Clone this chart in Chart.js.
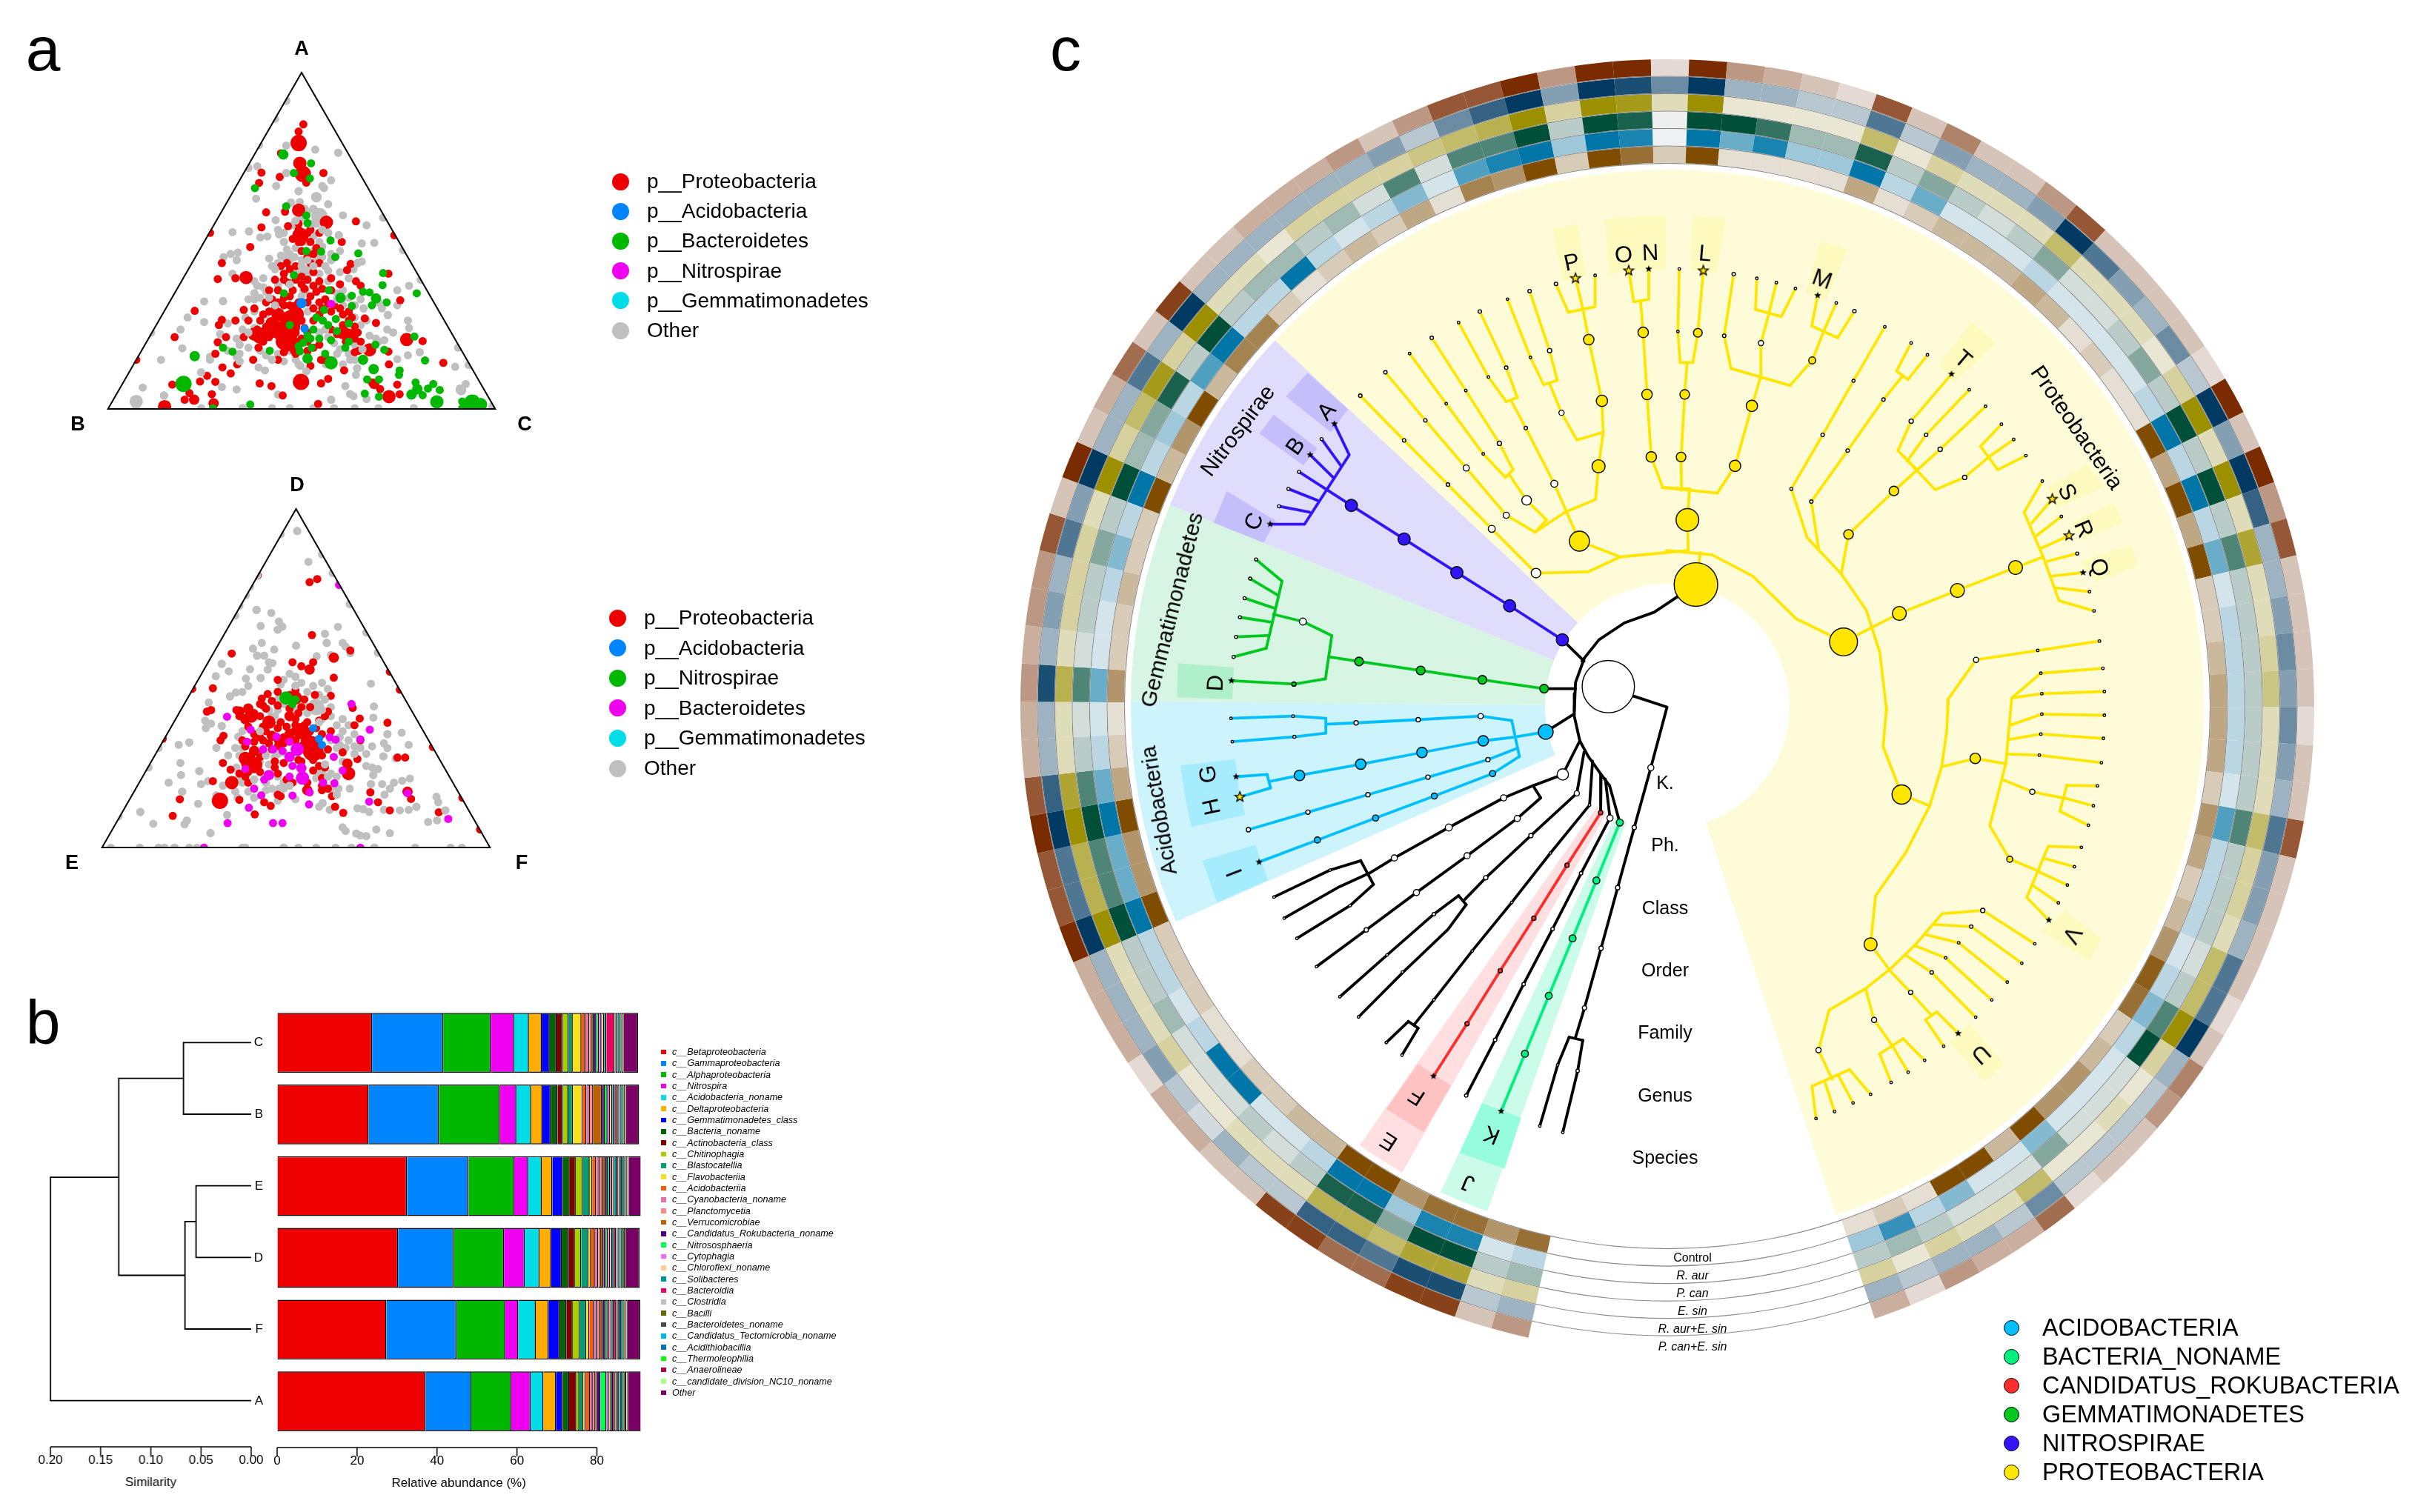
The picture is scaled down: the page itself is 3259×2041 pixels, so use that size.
<!DOCTYPE html>
<html>
<head>
<meta charset="utf-8">
<title>Community composition</title>
<script src="https://cdn.jsdelivr.net/npm/chart.js"></script>
<style>
  html, body { margin: 0; background: #fff; }
  #page { position: relative; width: 3259px; height: 2041px; overflow: hidden; font-family: "Liberation Sans", Arial, sans-serif; color: #000; }
  #page canvas { position: absolute; }
  .txt { position: absolute; white-space: nowrap; z-index: 5; transform-origin: center; }
  .mark { position: absolute; z-index: 5; }
</style>
</head>
<body>
<div id="page"></div>
<script>
// ============================= panel a data

const triangleABC = [[180, 1355], [840, 1355], [510, 235], [180, 1355]];

const abcProteo = [[513,411],[505,435],[475,507],[442,571],[473,585],[547,572],[518,604],[438,605],[450,702],[482,700],[602,732],[442,752],[487,748],[578,800],[423,817],[375,870],[593,873],[587,893],[602,930],[610,945],[657,905],[677,993],[329,1028],[295,1115],[230,1190],[412,1025],[368,923],[398,920],[636,1068],[617,1053],[715,1128],[750,1200],[657,1163],[658,1205],[629,1265],[643,1287],[672,1272],[676,1304],[538,1336],[478,1308],[459,1277],[439,1268],[555,1253],[543,1268],[291,1272],[338,1262],[350,1243],[364,1263],[358,1304],[312,1322],[320,1300],[390,1235],[428,1190],[437,1150],[401,1205],[376,1215],[364,1170],[368,1132],[382,1115],[398,1060],[375,1058],[370,1075],[412,1115],[355,770],[470,1190],[555,1190],[543,1190],[582,1225],[600,1165],[607,1160],[667,778],
  [505,473,4],[507,540,3],[512,575,4],[505,695,3],[552,735,3],[508,780,4],[416,918,3],[688,1123,3],[658,1312,3],[278,1345,3],[328,1322,2],[361,1334,2],[509,1263,4],[625,1157,3],[633,1270,2],[580,1100,3],[592,1110,3],[440,1110,4],[430,1105,3],[490,1080,5],[485,1110,5],[480,1130,4],[492,1060,5],[470,1040,3],[500,1040,4],[460,1070,3],[462,1095,3],
  [490,890],[480,905],[488,935],[510,940],[530,945],[520,925],[535,965],[550,990],[545,1020],[560,1030],[580,1040],[590,1030],[470,960],[465,1020],[445,1040],[525,870],[520,850],[510,830],[505,800],[525,760],[505,760],[515,780],[560,920],[575,940],[450,1080],[440,1060],[430,1020],[420,1060],[520,1000],[540,1000],[505,1000],[490,980],[490,1010],[590,1100],[600,1120],[560,1090],[530,1060],[510,1120],[497,1160],[480,1165],[485,1150],[520,1130],[530,1150],[547,1190],[525,1210],[600,1080],[580,1075],[595,1050],
  [450,1000],[455,1030],[470,1000],[480,1010],[475,1050],[500,1010],[505,1050],[510,1060],[515,1085],[520,1100],[505,1130],[495,1140],[470,1110],[455,1115],[445,1130],[435,1090],[470,1075],[480,985],[495,960],[510,915],[500,880],[485,870],[475,880],[530,900],[540,930],[545,955],[555,1005],[565,1010],[540,1040],[530,1020],[525,980],[515,955],[500,925],[480,925],[465,925],[460,990],[455,960],[475,1130],[500,1170],[500,1100],[520,1160],[540,1140],[570,1105],[585,1130],[605,1100],[610,1130],[590,1060],[575,1020],[560,960],[540,870],[530,840],[535,820],[525,800],[510,800],[495,790],[505,740],[520,770],[540,770]];

const abcOther = [[484,333],[465,393],[438,480],[533,495],[572,505],[484,481],[435,550],[420,555],[484,572],[560,596],[545,615],[533,650],[505,632],[467,615],[433,657],[555,675],[492,670],[507,668],[548,622],[466,728],[421,765],[393,768],[440,785],[452,782],[472,775],[620,745],[612,805],[633,803],[573,778],[580,712],[648,720],[682,827],[712,925],[692,945],[672,960],[640,1000],[605,870],[612,865],[598,890],[402,835],[400,860],[390,840],[378,850],[393,905],[465,890],[455,855],[475,845],[345,997],[377,996],[317,1050],[345,1065],[305,1090],[255,1100],[308,1152],[272,1190],[241,1282],[277,1308],[355,1180],[372,1105],[385,1070],[405,1140],[405,1170],[410,1090],[355,1190],[340,1232],[400,1288],[375,1280],[400,1180],[405,1195],[448,1225],[437,1215],[470,1305],[560,1322],[592,1303],[620,1320],[602,1240],[604,1218],[580,1205],[592,1190],[600,1190],[613,1155],[636,1120],[655,1090],[690,1060],[656,1042],[672,1010],[646,1020],[692,1085],[710,1165],[690,1175],[770,1213],[775,1150],[793,1207],[788,1270],[778,1285],[672,1188],[700,1300],[584,1277],[598,1310],[551,1205],[518,1228],[508,1210],[430,930],[445,950],[430,970],[430,990],[440,985],[420,990],[460,880],[470,945],[520,910],[540,905],[550,880],[535,860],[520,890],[500,905],[560,860],[575,830],[545,815],[520,800],[500,730],[520,700],[540,710],[535,740],[555,770],[530,780],[540,800],[470,760],[480,800],[498,850],[490,860],[570,970],[570,990],[580,1010],[510,980],[520,1030],[600,1010],[625,1110],[640,1130],[650,1125],[665,1100],[600,1140],[590,1170],[570,1170],[550,1090],[500,1190],[490,1160],[470,1170],[460,1190],[440,1160],[600,1190],[385,1160],[420,1100],[415,1050],[430,1030],[450,1040],[465,1010],[600,1350],[530,1350],[460,1350],[410,1350],[340,1350],[230,1350],[640,1350],[700,1350],[565,1350],[490,1350],
  [230,1328,3],[535,652,2],[540,715,4],[515,960,2],[835,1345,2],[780,1290,2],
  [445,920],[435,945],[450,965],[455,985],[480,850],[490,840],[510,860],[530,880],[545,850],[560,840],[540,840],[520,860],[500,820],[485,825],[530,830],[510,880],[470,870],[555,895],[575,900],[590,920],[580,960],[590,985],[610,990],[615,1020],[600,1050],[620,1060],[610,1075],[545,1060],[555,1115],[565,1135],[575,1155],[540,1100],[520,1170],[505,1205],[480,1195],[450,1175],[420,1150],[400,1120],[430,1085],[490,940],[510,895],[540,950],[555,930],[525,740],[510,720],[495,745],[480,770],[545,760],[555,740],[530,690],[515,690]];

const abcBacteroidetes = [[479,511,2],[526,540],[497,572],[524,590],[431,622],[484,682],[518,713],[520,738],[559,795],[567,850],[606,838],[518,830],[543,832],[648,903],[647,943],[705,970],[614,965],[625,967],[636,987,2],[654,1000],[629,1010],[576,985,2],[595,978],[701,1113],[650,1157],[377,1150],[393,1163],[329,1178,2],[310,1270,4],[423,1338],[456,1160],[520,1186,2],[507,1162],[513,1133],[527,1150],[550,1170],[560,1200,3],[584,1150],[614,1190,2],[719,1192],[632,1221,2],[676,1225],[621,1255],[641,1255],[617,1302],[641,1312],[675,1240],[703,1265],[706,1287,2],[696,1305,2],[724,1285],[744,1290],[715,1307],[733,1270],[739,1329,3],[782,1328],[799,1332,4],[813,1338,3],[782,1350],[548,1025],[546,1060],[568,1055],[590,1070],[570,1095],[590,1130],[635,1140],[595,1012],[556,960],[497,910],[480,970],[490,1075],[540,1120],[530,1090],[360,1350],[535,1050],[555,1075],[520,1110],[525,1120],[505,1145],[560,1125]];

const abcAcido = [[510,1003,2],[515,1087]];
const abcNitro = [[560,1005]];

// ============================= panel a lower ternary data

const triangleDEF = [[170, 1237], [832, 1237], [501, 110], [170, 1237]];

const defOther = [[503,188],[475,198],[522,290],[545,265],[563,327],[435,335],[423,372],[416,400],[405,435],[398,468],[434,449],[459,459],[472,487],[478,504],[441,502],[470,514],[572,505],[592,430],[620,524],[550,528],[553,558],[443,558],[501,567],[428,577],[464,580],[435,600],[447,600],[580,558],[585,570],[593,592],[640,590],[560,598],[536,602],[455,622],[461,625],[375,627],[387,652],[365,668],[423,645],[453,646],[441,674],[416,676],[420,700],[410,720],[399,722],[389,735],[353,755],[347,815],[357,825],[348,840],[375,833],[366,905],[386,930],[403,868],[398,905],[320,887],[302,895],[268,905],[305,955],[251,970],[337,982],[306,995],[285,1020],[340,1025],[352,1015],[308,1050],[335,1090],[366,1062],[377,1030],[398,1050],[237,1117],[200,1132],[259,1156],[312,1158],[316,1145],[356,1187],[384,1127],[402,1070],[450,1045],[472,1040],[490,1030],[660,1040],[628,693],[633,768],[632,805],[656,860],[680,855],[692,895],[650,890],[656,906],[649,933],[670,940],[640,975],[620,965],[630,970],[632,995],[694,1007],[681,1014],[667,1020],[647,1025],[628,1025],[592,1040],[573,1040],[651,1060],[605,1105],[615,1108],[625,1117],[650,1110],[677,1112],[692,1110],[705,1100],[725,1150],[740,1145],[739,1067],[742,1085],[754,1112],[580,1168],[585,1180],[603,1188],[610,1195],[620,1197],[637,1175],[660,1187],[568,1100],[558,1110],[546,1088],
  [187,1235],[236,1235],[268,1235],[278,1235],[295,1235],[320,1235],[333,1235],[410,1235],[415,1235],[480,1235],[505,1235],[535,1235],[568,1235],[595,1235],[634,1235],[703,1235],[763,1235],[782,1235],
  [430,860],[440,850],[470,830],[500,780],[520,790],[535,770,4],[545,780],[530,700],[545,690],[555,710],[490,660],[500,670],[475,695],[560,800],[570,830],[580,850],[590,880],[575,870],[560,880],[600,900],[630,900],[540,820],[460,800],[470,780],[480,760],[410,850],[450,930],[465,935],[480,920],[540,990],[560,990],[550,960],[590,960],[580,950],[470,1000],[480,1040],[450,1020],[410,1000],[415,960],[400,970],[560,1040],[570,1060],
  [480,680],[510,690],[520,720],[540,730],[550,745],[560,770],[530,760],[545,810],[520,770],[500,700],[490,745],[470,745],[455,780],[465,800],[580,810],[590,830],[600,860],[610,905],[620,925],[600,925],[585,905],[575,895],[570,905],[545,985],[555,1000],[570,1000],[535,1005],[480,1020],[460,1040],[430,1010],[410,1020],[400,1010],[440,950],[455,960],[470,925],[450,890],[410,905],[405,930],[420,1050],[430,1070],[470,1080],[500,1075],[540,1100]];

const defProteo = [[436,335],[537,347],[524,357],[528,532],[392,593],[593,583],[565,607,2],[495,622],[530,622],[510,635],[524,646,2],[660,653],[565,673],[470,680],[360,708],[325,710],[677,713],[453,727],[533,730],[560,733],[443,742],[350,785],[357,780],[597,773],[609,808],[656,822],[600,830],[275,875],[378,865],[373,880],[733,902],[673,937],[686,937],[377,955],[605,942],[588,957,2],[304,1075],[292,1130],[405,1077],[431,1125],[458,1097],[447,1085],[475,1065],[562,1065],[581,1120],[567,1100],[627,1052],[640,1085],[660,1112],[696,1074],[690,1050,2],[743,1118],[813,1175],[783,1070],[545,1030],[555,1040],[545,1045],[390,977],[405,990],[415,1000],[420,1020],[360,1015],[392,1020,3],[372,1080,4],[430,962,4],[415,940,3],[425,800,3],[405,785,2],[415,810,2],[420,775,2],[440,800],[450,775],[460,750],[470,720],[500,740,3],[510,770],[490,800,2],[455,820,3],[470,840],[430,860],[460,865,2],[490,860,2],[510,850,4],[520,880,3],[530,915,5],[520,900,4],[545,860],[550,800],[555,785],[430,915,2],[415,900],[410,880],[460,910],[445,915],[465,970],[470,990],[510,1010],[520,1020],[520,1045,2],[590,990,3],[550,970],[540,965],[580,920],[610,880],[480,870],[498,850],[515,830],[535,840],[500,810],[470,1060],
  [405,800],[400,780],[430,790],[445,835],[450,850],[440,870],[430,885],[445,880],[475,820],[485,835],[500,830],[520,820],[525,850],[500,880],[480,890],[470,880],[505,900],[530,880],[540,900],[545,930],[530,945],[505,945],[440,935],[425,930],[435,950],[415,960],[420,985],[440,985],[465,950],[480,955],[530,980],[510,950],[555,910],[490,775],[505,790],[525,770],[470,765],[445,765],[500,715],[490,730],[515,745],[540,815],[560,850],[455,890],[470,900],[420,835],[440,760],[485,1010],[495,1020],[545,1005]];

const defBacteroidetes = [[574,366],[384,802],[595,760],[626,845],[424,845],[610,877],[568,878],[558,870],[418,885],[468,868],[490,885],[503,910,3],[478,915],[462,910],[445,910],[490,935,2],[565,935],[580,980],[495,965],[510,972,2],[512,1005,3],[455,995,2],[447,1010],[430,1040],[442,1062],[495,1063],[524,1052],[523,1092],[421,1103],[566,1022],[547,1020],[625,1083],[690,1055],[759,1140],[385,1154],[462,1154],[478,1154],[345,1235],[610,1235],[415,975],[490,1000]];

const defNitro = [[484,740,3],[495,760],[500,745]];
const defAcido = [[530,840],[540,875],[545,895]];

const legendABC = ['p__Proteobacteria', 'p__Acidobacteria', 'p__Bacteroidetes', 'p__Nitrospirae', 'p__Gemmatimonadetes', 'Other'];
const legendDEF = ['p__Proteobacteria', 'p__Acidobacteria', 'p__Nitrospirae', 'p__Bacteroidetes', 'p__Gemmatimonadetes', 'Other'];

// ============================= panel b data

const samples = ['C', 'B', 'E', 'D', 'F', 'A'];

const classNames = ['c__Betaproteobacteria','c__Gammaproteobacteria','c__Alphaproteobacteria','c__Nitrospira','c__Acidobacteria_noname','c__Deltaproteobacteria','c__Gemmatimonadetes_class','c__Bacteria_noname','c__Actinobacteria_class','c__Chitinophagia','c__Blastocatellia','c__Flavobacteriia','c__Acidobacteriia','c__Cyanobacteria_noname','c__Planctomycetia','c__Verrucomicrobiae','c__Candidatus_Rokubacteria_noname','c__Nitrososphaeria','c__Cytophagia','c__Chloroflexi_noname','c__Solibacteres','c__Bacteroidia','c__Clostridia','c__Bacilli','c__Bacteroidetes_noname','c__Candidatus_Tectomicrobia_noname','c__Acidithiobacillia','c__Thermoleophilia','c__Anaerolineae','c__candidate_division_NC10_noname','Other'];

const abundanceC = [23.75,17.8,11.9,5.85,3.7,3.2,2.0,1.7,1.5,1.5,1.05,2.2,0.95,1.0,0.65,0.45,0.65,0.65,0.65,0.65,0.6,2.0,0.25,0.25,0.3,0.3,0.3,0.3,0.3,0.3,3.6];
const abundanceB = [22.9,17.6,15.2,4.15,3.7,2.8,2.1,1.7,1.3,1.4,1.15,2.45,0.95,0.85,0.85,2.15,0.7,0.7,0.6,0.6,0.6,0.5,0.3,0.3,0.2,0.3,0.3,0.3,0.3,0.3,3.3];
const abundanceE = [32.5,15.4,11.4,3.5,3.4,2.65,2.65,1.7,1.5,1.8,1.7,0.7,0.9,0.85,0.75,0.75,0.55,0.55,0.55,0.45,0.85,0.2,0.25,0.3,0.35,0.35,0.35,0.35,0.35,0.35,3.2];
const abundanceD = [30.25,13.95,12.55,5.2,3.7,2.9,2.65,1.7,1.6,1.6,1.8,0.65,0.95,0.85,0.65,0.65,0.55,0.55,0.55,0.5,0.5,0.5,0.2,0.2,0.35,0.35,0.35,0.35,0.35,0.35,3.4];
const abundanceF = [27.35,17.55,12.15,3.3,4.35,3.2,2.75,1.7,1.6,1.8,1.6,0.75,1.15,0.85,0.75,0.65,0.65,0.5,0.5,0.55,0.5,0.65,0.2,0.2,0.4,0.4,0.4,0.4,0.4,0.4,3.2];
const abundanceA = [37.15,11.4,10,4.9,3.2,3.1,1.7,1.6,1.8,0.75,0.95,0.65,1.05,0.7,0.7,0.4,0.85,1.5,0.6,0.6,0.4,0.5,0.3,0.3,0.45,0.45,0.45,0.45,0.45,0.45,3.6];

const classColors = ['#ee0000','#0085ff','#00b800','#f000f0','#00dde6','#ffae00','#0000ff','#006400','#800000','#aacd00','#009e73','#f8e020','#ff5a00','#e672a8','#ff8888','#c06000','#4b0090','#00ff50','#ff66ff','#ffcc99','#009999','#f00060','#bfbfbf','#666600','#4d4d4d','#00b8e6','#0070b8','#00ff00','#b00040','#aaff88','#7a0066'];

// dendrogram: sample row (0 = top) and similarity of each merge
const dendroMerges = [
  [[0, 0], [1, 0], 0.0675],
  [[2, 0], [3, 0], 0.055],
  [[2.5, 0.055], [4, 0], 0.066],
  [[0.5, 0.0675], [3.25, 0.066], 0.132],
  [[1.88, 0.132], [5, 0], 0.2]
];

// ============================= panel c heat rings, one value per tree leaf

const ringPcanEsin = [4,2,8,8,6,6,8,8,2,2, 3,3,1,3,3,3,9,7,7,9, 7,3,3,4,3,4,4,7,2,9, 2,3,6,2,8,2,2,3,3,3, 4,2,4,7,7,9,4,9,9,1, 9,4,3,2,1,7,2,5,2,2, 4,7,2,2,2,2,1,9,2,9, 4,7,2,2,2,2,1,2,2,7, 2,2,2,2,1,2,5,4,2,2, 1,6,3,3,4,1,3];
const ringRaurEsin = [3,2,8,8,6,7,7,2,2,3, 1,2,4,3,3,3,9,6,6,9, 7,3,3,8,3,4,3,6,4,9, 3,3,6,3,9,3,3,3,3,3, 3,4,2,5,7,9,4,9,8,5, 9,3,3,2,2,6,2,4,3,3, 4,9,6,4,3,5,2,9,4,9, 7,3,3,4,5,4,5,4,3,6, 4,4,3,6,6,9,3,2,2,2, 2,5,2,3,3,2,3];
const ringEsin = [3,2,7,7,5,6,6,2,2,2, 1,1,3,2,2,2,9,6,6,9, 7,2,2,6,2,3,3,3,2,9, 3,5,8,3,9,2,2,1,3,3, 3,3,4,5,6,9,3,9,8,2, 9,1,1,1,1,5,1,3,2,2, 2,5,2,2,2,1,3,9,2,9, 2,7,2,2,3,4,2,2,2,5, 3,3,2,5,5,9,3,1,2,1, 1,5,2,2,3,1,3];
const ringPcan = [3,2,9,9,4,8,8,2,1,2, 1,1,1,3,2,2,9,6,6,9, 6,2,1,6,1,2,2,4,2,9, 3,4,8,2,9,2,3,3,2,3, 1,6,1,6,6,9,2,9,8,0, 9,9,7,3,3,8,2,4,2,1, 2,4,1,1,2,4,2,9,2,9, 2,6,2,2,2,2,2,2,2,6, 2,2,2,1,2,6,9,1,1,1, 4,1,1,1,2,3,2];
const ringRaur = [2,1,8,8,3,9,9,2,1,1, 9,9,2,1,2,2,9,5,5,9, 5,2,1,5,1,1,2,4,2,9, 2,3,2,6,9,2,2,9,2,1, 2,4,1,6,8,9,3,9,8,0, 9,5,8,3,3,9,2,5,1,1, 1,2,1,1,1,1,2,9,2,9, 2,5,1,2,2,2,2,2,1,6, 2,2,2,1,2,4,2,1,1,1, 4,1,1,4,2,7,3];
const ringControl = [7,5,7,7,5,9,9,3,3,2, 2,1,1,2,2,2,9,5,5,9, 4,2,1,5,2,2,3,2,2,9, 3,5,9,3,6,6,2,1,2,3, 2,4,1,6,5,9,2,9,7,2, 9,1,1,1,1,4,1,2,3,3, 3,4,3,1,2,1,1,9,4,9, 4,9,2,2,3,4,4,4,2,5, 4,2,3,5,8,7,2,3,5,5, 9,3,9,9,1,2,1];

// clade shading spans in degrees, clockwise from the lower edge of the yellow wedge
const cladeSpans = [37.9, 5.4, 4.6, 5.4, 31.3, 24.2, 21.5, 21, 208.7];

const ringLabels = ['Control', 'R. aur', 'P. can', 'E. sin', 'R. aur+E. sin', 'P. can+E. sin'];
const levelLabels = ['K.', 'Ph.', 'Class', 'Order', 'Family', 'Genus', 'Species'];
const phylumLegend = ['ACIDOBACTERIA', 'BACTERIA_NONAME', 'CANDIDATUS_ROKUBACTERIA', 'GEMMATIMONADETES', 'NITROSPIRAE', 'PROTEOBACTERIA'];

// ============================= tree, each list in its own quadrant units

const quadrants = { nw: [1400, 60, 1.742, 1.742], ne: [2200, 60, 1.633, 1.742], sw: [1400, 900, 1.742, 1.65], se: [2200, 900, 1.48, 1.374] };

const blackLinesNw = [[1280,1450,1320,1400,1380,1360,1450,1335,1510,1295],[1285,1445,1265,1500,1262,1568],[1234,1400,1285,1450],[1191,1515,1265,1515]];
const blackLinesSw = [
  [1262,60,1262,110,1275,165,1295,200,1325,240,1345,265],[1195,145,1262,105],
  [1400,65,1480,90,1442,225,1403,358,1364,492,1325,627,1286,760,1265,825],[1250,825,1282,832],[1250,825,1223,887,1181,1023],[1282,832,1270,900,1235,1037],
  [1275,165,1235,240,1165,265,1183,292],[1165,265,1096,292,967,358,839,426,780,460],[760,432,790,485],[760,432,688,453,556,513],[775,462,710,490,580,560],[790,485,735,532,610,605],[1183,292,1128,338,1010,421,891,503,773,586,656,668],
  [1285,190,1268,282,1160,376,1054,470,1005,518],[990,510,1008,530],[990,510,932,551,822,642,711,735],[1008,530,965,585,860,680,755,780],
  [1305,210,1298,308,1206,415,1115,525,1022,633,932,742,885,798],[872,790,895,805],[872,790,820,837],[895,805,857,865],
  [1325,240,1324,325],[1335,250,1346,337,1278,460,1211,584,1143,707,1076,831,1008,955],[1345,265,1369,347]];
const purpleLinesNw = [[1234,1400,1110,1320,986,1242,862,1163,738,1084,615,1005],[547,1128,628,1128,733,965,698,892],[568,1086,640,1100],[590,1045,658,1072],[641,965,695,1018],[668,928,713,990]];
const greenLinesNw = [[1191,1515,1046,1494,901,1472,756,1451,685,1440],[692,1390,677,1492],[692,1390,624,1357,555,1340],[575,1262,538,1420],[514,1211,575,1262],[500,1256,565,1295],[487,1302,555,1325],[476,1347,548,1358],[467,1393,542,1390],[461,1440,538,1420],[677,1492,610,1503,603,1504,456,1496]];
const blueLinesSw = [[1195,145,1120,157],[1115,120,1133,200],[1115,120,1042,110,895,118,749,125,678,128],[678,115,678,148],[678,115,601,110,455,115],[678,148,604,156,458,167],[1120,157,1048,165,904,191,760,217,616,242,548,255],[540,240,548,270],[540,240,467,245],[548,270,476,290],[1127,182,1059,207,918,246,777,285,636,324,496,363],[1133,200,1070,238,933,288,795,337,658,386,521,435]];
const redLinesSw = [[1324,325,1245,442,1167,560,1088,677,1010,795,931,912]];
const mintLinesSw = [[1369,347,1314,476,1258,605,1202,733,1146,862,1090,990]];
const yellowLinesNw = [
  [1172,1243,1295,1240,1370,1205,1530,1190],[1274,1168,1370,1205],[1530,1190,1528,1118,1533,1045],
  [1170,1147,1240,1100,1312,1070,1319,992,1330,912,1268,930,1232,866,1205,800],[1190,800,1222,790],[1190,800,1159,736,1105,599],[1222,790,1204,720,1157,580],
  [1330,912,1327,838,1296,694,1283,625],[1248,630,1310,617],[1248,630,1219,563],[1310,617,1311,543],[1283,625,1265,550],
  [1274,1168,1215,1033,1148,902,1115,840],[1102,840,1128,830],[1102,840,1060,782,990,654],[1128,830,1102,760,1040,628],
  [1170,1147,1102,1107,1008,996,912,884,818,771],[1170,1147,1197,1118,1150,1072,1108,1010],[1100,1018,1118,1000],[1100,1018,1048,963,961,845,875,727],[1118,1000,1086,938,1007,814,927,690],
  [1172,1243,1068,1139,965,1035,862,931,759,826],
  [1470,1042,1533,1045],[1470,1042,1443,970,1433,823,1424,677,1418,605],[1402,605,1436,600],[1402,605,1390,532],[1436,600,1437,528]];
const yellowLinesNe = [
  [70,1042,130,1048,192,1055],[113,1048,112,970,120,823,125,750],[110,748,138,748],[110,748,105,675,108,528],[138,748,149,678,161,532],
  [192,1055,231,991,268,850,288,780],[222,762,352,802],[222,762,207,685,228,540],[288,780,288,702,305,635],[276,623,333,640],[276,623,279,550],[305,635,322,560],[333,640,364,574],
  [352,802,401,743,428,670],[400,662,457,690],[400,662,413,590],[428,670,454,608],[457,690,494,627],
  [142,1270,155,1195],[80,1190,180,1200,270,1250,365,1350,470,1405],
  [470,1405,593,1338,721,1284,849,1230,910,1205],[868,1100,910,1205,945,1308],[868,1100,908,1027],[885,1125,930,1069],[893,1157,950,1110],[905,1185,967,1155],[920,1215,985,1197],[930,1250,998,1242],[940,1278,1012,1287],[945,1308,1022,1332],
  [355,1045,390,1160,465,1245,520,1330,550,1430,565,1568],[399,1075,415,1185],[355,1045,424,918,492,791,561,664],[399,1075,479,955,558,835,600,780],[587,768,612,788],[587,768,619,702],[612,788,655,730],
  [465,1245,481,1152,581,1050,683,952,783,851],[632,1000,590,955,672,1047,737,1018,790,970],[772,945,810,1000],[772,945,818,893],[790,970,845,929],[810,1000,872,967],
  [590,955,619,886,708,775],[610,980,652,918,747,812],
  [700,1568,700,1540,762,1447,898,1425,1034,1403]];
const yellowLinesSe = [
  [512,75,505,148,542,237],[635,60,632,120,622,185,598,258,550,345,490,425,480,515],[542,237,598,258],[625,185,689,170,750,180],[762,58,750,180,718,295,758,357],
  [762,58,820,12,944,3],[762,58,822,50,947,46],[760,108,822,88,947,90],[755,135,820,125,945,133],[752,162,817,164,941,178],[745,210,803,232,862,243],[872,220,858,268],[872,220,933,221],[865,243,925,258],[858,268,915,294],
  [758,357,818,380],[835,333,792,428],[835,333,901,335],[825,355,887,371],[815,380,873,405],[803,405,855,438],[792,428,836,470],
  [480,515,520,565,560,604,600,645],[590,655,612,640],[612,640,655,680],[590,655,626,704],
  [397,637,470,597,520,560,570,515,623,458],[623,458,704,452,808,514],[605,478,681,482,782,550],[590,497,656,512,753,585],[570,518,630,540,722,618],[550,535,602,567,690,650],
  [470,597,487,655,525,705],[498,718,545,690],[498,718,521,771],[525,705,555,752],[545,690,588,730],
  [397,637,376,711,403,765],[363,778,438,747],[363,778,371,838],[388,768,408,825],[415,757,445,809],[438,747,480,793]];

const purpleNodesNw = [[1234,1400,14],[1110,1320,14],[986,1242,14],[862,1163,14],[738,1084,14]];
const greenNodesNw = [[1191,1515,10],[1046,1494,10],[901,1472,10],[756,1451,10],[603,1504,5]];
const blueNodesSw = [[1195,145,17],[1048,165,12],[904,191,12],[760,217,12],[616,242,12],[1070,238,7],[933,288,7],[795,337,7],[658,386,7]];
const redNodesSw = [[1324,325,5],[1245,442,5],[1167,560,5],[1088,677,5],[1010,795,5]];
const mintNodesSw = [[1369,347,8],[1314,476,8],[1258,605,8],[1202,733,8],[1146,862,8]];
const yellowNodesNw = [[1274,1168,23],[1319,992,15],[1327,838,13],[1296,694,12],[1528,1118,26],[1424,677,12],[1433,823,12],[1443,970,12],[1548,1270,50]];
const yellowNodesNe = [[112,970,11],[120,823,11],[149,678,10],[231,991,13],[268,850,13],[401,743,8],[470,1405,32],[593,1338,16],[721,1284,16],[849,1230,16],[481,1152,11],[581,1050,11]];
const yellowNodesSe = [[542,237,22],[480,515,15],[689,170,12],[758,357,7]];
const whiteNodesNw = [[1342,1510,60],[615,1005,3.5],[590,1045,3.5],[568,1086,3.5],[668,928,3.5],[514,1211,3.5],[500,1256,3.5],[487,1302,3.5],[476,1347,3.5],[467,1393,3.5],[461,1440,3.5],[624,1357,8],[1172,1243,11],[1150,1072,11],[1215,1033,8],[1102,1107,7],[1008,996,7],[1068,1139,8],[1232,866,6],[1204,720,5],[1148,902,4],[1102,760,4],[1086,938,5],[1219,563,4],[1311,543,3],[1157,580,4],[1105,599,2.5],[1040,628,4],[990,654,3],[1060,782,2],[1159,736,3],[1007,814,3],[1048,963,3],[961,845,3],[912,884,4],[927,690,4],[875,727,3],[818,771,4],[965,1035,4],[862,931,4],[759,826,4]];
const whiteNodesNe = [[105,675,3],[108,528,3],[207,685,4],[228,540,4],[288,702,6],[279,550,3],[322,560,3],[364,574,3],[454,608,3],[494,627,4],[355,1045,3.5],[399,1075,4],[424,918,4],[492,791,3.5],[561,664,3],[479,955,4],[558,835,4],[619,702,3],[655,730,3],[683,952,5],[783,851,3],[619,886,5],[652,918,4],[747,812,3],[737,1018,5],[818,893,3],[845,929,3],[872,967,3],[908,1027,3],[950,1110,3],[985,1197,3.5],[1012,1287,3],[1022,1332,3],[762,1447,6],[898,1425,3],[1034,1403,3]];
const whiteNodesSw = [[1042,110,6],[895,118,5],[749,125,5],[601,110,3],[604,156,3.5],[455,115,2.5],[458,167,2.5],[1059,207,5],[918,246,5],[777,285,5],[636,324,5],[496,363,5],[1442,225,7],[1403,358,5],[1364,492,5],[1325,627,5],[1286,760,5],[1270,900,4],[1235,1037,3],[1223,887,2],[1181,1023,2.5],[1235,240,13],[1096,292,7],[967,358,8],[839,426,7],[556,513,2.5],[580,560,2.5],[610,605,3],[688,453,2],[735,532,3],[1128,338,7],[1010,421,7],[891,503,7],[773,586,5],[656,668,3],[1268,282,6],[1160,376,5],[1054,470,5],[932,551,4],[822,642,3],[711,735,3],[858,680,2],[755,780,2],[1298,308,3],[1206,415,2],[1115,525,2],[1022,633,2],[932,742,3],[820,837,2],[857,865,2],[1346,337,7],[1278,460,4],[1211,584,4],[1143,707,4],[1076,831,4],[1008,955,4]];
const whiteNodesSe = [[820,12,3],[944,3,3],[822,50,3],[947,46,3],[822,88,3],[947,90,3],[820,125,3],[945,133,3],[817,164,3],[941,178,2],[803,232,6],[933,221,3],[925,258,2],[915,294,2],[901,335,2],[887,371,2],[873,405,2],[855,438,3],[704,452,5],[808,514,2],[681,482,4],[782,550,2],[656,512,3],[753,585,2],[630,540,2],[722,618,2],[602,567,4],[690,650,2],[560,604,5],[626,704,2],[487,655,6],[521,771,2],[555,752,2],[588,730,2],[376,711,6],[371,838,2],[408,825,3],[445,809,2],[480,793,2]];

const blackStarsNw = [[547,1128],[641,965],[698,892],[456,1496],[1437,528]];
const openStarsNw = [[1265,550],[1390,532]];
const blackStarsSw = [[467,245],[521,435],[931,912],[1090,990]];
const openStarsSw = [[476,290]];
const blackStarsNe = [[413,590],[708,775],[998,1242]];
const openStarsNe = [[161,532],[930,1069],[967,1155]];
const blackStarsSe = [[655,680],[836,470]];

const purplePatchesNw = [[635,772,730,858,690,912,584,828],[555,870,658,950,625,990,522,915],[445,1050,560,1120,532,1172,414,1125]];
const greenPatchesNw = [[330,1455,462,1465,458,1540,328,1535]];
const bluePatchesSw = [[336,220,465,206,473,270,347,290],[347,290,473,270,488,330,362,357],[388,432,512,397,542,475,422,525]];
const redPatchesSw = [[895,885,972,933,908,1037,820,985]];
const mintPatchesSw = [[1045,972,1137,1005,1098,1118,993,1083]];
const yellowPatchesNw = [[1212,433,1268,423,1290,545,1235,558],[1333,412,1405,405,1408,527,1345,540],[1405,405,1477,402,1477,530,1408,530]];
const yellowPatchesNe = [[137,404,210,410,190,537,132,530],[420,462,478,482,432,602,387,584],[752,653,807,702,715,795,680,752],[1010,990,1045,1040,940,1090,918,1040],[1066,1078,1087,1125,995,1165,972,1125],[1105,1177,1118,1225,1025,1265,990,1215]];
const yellowPatchesSe = [[677,662,747,738,708,768,638,697],[870,453,941,505,917,546,822,490]];

// ============================= helpers

const page = document.getElementById('page');
const ringCentre = [2250, 953];

function addCanvas(left, top, width, height) {
    const c = document.createElement('canvas');
    c.width = width;
    c.height = height;
    c.style.left = left + 'px';
    c.style.top = top + 'px';
    c.style.width = width + 'px';
    c.style.height = height + 'px';
    page.appendChild(c);
    return c;
}

function addText(str, x, y, size, extra) {
    const o = extra || {};
    const d = document.createElement('div');
    d.className = 'txt';
    d.textContent = str;
    d.style.left = x + 'px';
    d.style.top = y + 'px';
    d.style.fontSize = size + 'px';
    if (o.bold) d.style.fontWeight = 'bold';
    if (o.italic) d.style.fontStyle = 'italic';
    const shift = o.left ? 'translate(0,-50%)' : 'translate(-50%,-50%)';
    d.style.transform = shift + ' rotate(' + (o.rot || 0) + 'deg)';
    page.appendChild(d);
}

function addMark(x, y, size, color, round, border) {
    const d = document.createElement('div');
    d.className = 'mark';
    d.style.left = (x - size / 2) + 'px';
    d.style.top = (y - size / 2) + 'px';
    d.style.width = size + 'px';
    d.style.height = size + 'px';
    d.style.background = color;
    d.style.boxSizing = 'border-box';
    if (round) d.style.borderRadius = '50%';
    if (border) d.style.border = border;
    page.appendChild(d);
}

const baseOptions = {
    responsive: false,
    animation: false,
    events: [],
    layout: { autoPadding: false },
    plugins: { legend: { display: false }, tooltip: { enabled: false } }
};

// ============================= ternary plots

const abundanceRadius = [0, 5.5, 7, 9, 11, 14];

function ternaryDataset(points, color) {
    return {
        data: points.map(p => ({ x: p[0], y: p[1], r: abundanceRadius[p[2] || 1] })),
        backgroundColor: color,
        borderWidth: 0,
        pointRadius: ctx => ctx.raw ? ctx.raw.r : 0,
        clip: false
    };
}

// marks on the edge are cut by the triangle, so clip the datasets to it
function triangleClip(triangle) {
    return {
        id: 'triangleClip',
        beforeDatasetsDraw(chart) {
            const ctx = chart.ctx;
            ctx.save();
            ctx.beginPath();
            triangle.forEach(p => ctx.lineTo(chart.scales.x.getPixelForValue(p[0]), chart.scales.y.getPixelForValue(p[1])));
            ctx.closePath();
            ctx.clip();
        },
        afterDatasetsDraw(chart) {
            chart.ctx.restore();
        }
    };
}

function ternaryChart(left, top, width, height, triangle, series) {
    const xs = triangle.map(p => p[0]);
    const ys = triangle.map(p => p[1]);
    new Chart(addCanvas(left - 40, top - 40, width + 80, height + 80), {
        type: 'scatter',
        data: {
            datasets: [{
                data: triangle.map(p => ({ x: p[0], y: p[1] })),
                showLine: true,
                borderColor: '#000',
                borderWidth: 4,
                pointRadius: 0,
                clip: false
            }].concat(series)
        },
        options: Object.assign({}, baseOptions, {
            layout: { padding: 40, autoPadding: false },
            scales: {
                x: { type: 'linear', display: false, min: Math.min(...xs), max: Math.max(...xs) },
                y: { type: 'linear', display: false, min: Math.min(...ys), max: Math.max(...ys), reverse: true }
            }
        }),
        plugins: [triangleClip(triangle)]
    });
}

const cRed = '#ee0000', cBlue = '#0085ff', cGreen = '#00b800', cPink = '#f000f0', cCyan = '#00dde6', cGrey = '#bfbfbf';

ternaryChart(143.5, 96, 526.5, 457, triangleABC, [
    ternaryDataset(abcAcido, cBlue),
    ternaryDataset(abcNitro, cPink),
    ternaryDataset(abcBacteroidetes, cGreen),
    ternaryDataset(abcOther.filter((p, i) => i % 4 === 0), cGrey),
    ternaryDataset(abcProteo, cRed),
    ternaryDataset(abcOther, cGrey)
]);

ternaryChart(135.6, 685, 527.9, 460, triangleDEF, [
    ternaryDataset(defNitro, cGreen),
    ternaryDataset(defAcido, cBlue),
    ternaryDataset(defBacteroidetes, cPink),
    ternaryDataset(defOther.filter((p, i) => i % 5 === 0), cGrey),
    ternaryDataset(defProteo, cRed),
    ternaryDataset(defOther, cGrey)
]);

addText('A', 407, 65, 27, { bold: true });
addText('B', 105, 572, 27, { bold: true });
addText('C', 708, 572, 27, { bold: true });
addText('D', 401, 654, 27, { bold: true });
addText('E', 97, 1164, 27, { bold: true });
addText('F', 704, 1164, 27, { bold: true });

const legendColors = [cRed, cBlue, cGreen, cPink, cCyan, cGrey];
legendABC.forEach((name, i) => {
    const y = 245 + i * 40.2;
    addMark(837, y, 23, legendColors[i], true);
    addText(name, 873, y, 28, { left: true });
});
legendDEF.forEach((name, i) => {
    const y = 834 + i * 40.6;
    addMark(833, y, 23, legendColors[i], true);
    addText(name, 869, y, 28, { left: true });
});

// ============================= stacked bars and dendrogram

// axis line set below the plot, running from first to last tick only
const offsetAxis = {
    id: 'offsetAxis',
    afterDraw(chart) {
        const s = chart.scales.x;
        const y = chart.chartArea.bottom + 14;
        const px = s.ticks.map(t => s.getPixelForValue(t.value));
        const ctx = chart.ctx;
        ctx.save();
        ctx.strokeStyle = '#000';
        ctx.lineWidth = 1.5;
        ctx.beginPath();
        ctx.moveTo(Math.min(...px), y);
        ctx.lineTo(Math.max(...px), y);
        px.forEach(p => { ctx.moveTo(p, y); ctx.lineTo(p, y + 12); });
        ctx.stroke();
        ctx.restore();
    }
};

function bottomAxis(title, extra, tickExtra) {
    return Object.assign({
        type: 'linear',
        grid: { drawOnChartArea: false, color: 'rgba(0,0,0,0)', tickColor: 'rgba(0,0,0,0)', tickLength: 22 },
        border: { display: false },
        afterFit: s => { s.height = 80; },
        ticks: Object.assign({ color: '#000', font: { size: 17, family: 'Liberation Sans' }, padding: 0, maxRotation: 0 }, tickExtra),
        title: { display: true, text: title, color: '#000', font: { size: 17, family: 'Liberation Sans' }, padding: { top: 0, bottom: 7 } }
    }, extra);
}

const sampleRows = [abundanceC, abundanceB, abundanceE, abundanceD, abundanceF, abundanceA];

new Chart(addCanvas(339.7, 1337.8, 530, 682), {
    type: 'bar',
    data: {
        labels: samples,
        datasets: classNames.map((name, k) => ({
            label: name,
            data: sampleRows.map(row => row[k]),
            backgroundColor: classColors[k],
            borderColor: '#000',
            borderWidth: 1.5,
            barPercentage: 0.835,
            categoryPercentage: 1
        }))
    },
    options: Object.assign({}, baseOptions, {
        indexAxis: 'y',
        layout: { padding: { right: 5.7 }, autoPadding: false },
        scales: {
            x: bottomAxis('Relative abundance (%)', { stacked: true, min: 0, max: 90.9 }, { stepSize: 20, includeBounds: false }),
            y: {
                stacked: true,
                grid: { display: false },
                border: { display: false },
                afterFit: s => { s.width = 34; },
                ticks: { color: '#000', font: { size: 17, family: 'Liberation Sans' }, padding: 11 }
            }
        }
    }),
    plugins: [offsetAxis]
});

const dendroLines = dendroMerges.map(m => [
    { x: m[0][1], y: m[0][0] }, { x: m[2], y: m[0][0] }, { x: m[2], y: m[1][0] }, { x: m[1][1], y: m[1][0] }
]);

new Chart(addCanvas(48.3, 1359, 310.4, 660), {
    type: 'scatter',
    data: {
        datasets: dendroLines.map(line => ({
            data: line,
            showLine: true,
            borderColor: '#000',
            borderWidth: 1.8,
            pointRadius: 0,
            clip: false
        }))
    },
    options: Object.assign({}, baseOptions, {
        layout: { padding: { left: 20, right: 20 }, autoPadding: false },
        scales: {
            x: bottomAxis('Similarity', { min: 0, max: 0.2, reverse: true }, { stepSize: 0.05, callback: v => v.toFixed(2) }),
            y: { type: 'linear', display: false, min: -0.5, max: 5.5, reverse: true }
        }
    }),
    plugins: [offsetAxis]
});

classNames.forEach((name, i) => {
    const y = 1420 + i * 15.33;
    addMark(895.5, y, 6.5, classColors[i], false);
    addText(name, 907, y, 12.6, { left: true, italic: true });
});

// ============================= heat rings and clade shading

const cellWidth = 3.39;
const ringStart = 192.4;
const gapCells = 31.1 / cellWidth;

function mix(light, dark, v) {
    const t = v / 9;
    const c = light.map((l, i) => Math.round(l + (dark[i] - l) * t));
    return 'rgb(' + c.join(',') + ')';
}

function heatDataset(values, dark) {
    const light = dark.map(d => 245 - (245 - d) * 0.03);
    return {
        data: values.map(() => 1).concat(gapCells),
        backgroundColor: values.map(v => mix(light, dark, v)).concat('rgba(0,0,0,0)'),
        borderWidth: 0,
        weight: 22.3,
        rotation: ringStart
    };
}

function ringSeparator() {
    return { data: [1], backgroundColor: ['#8c8c8c'], borderWidth: 0, weight: 1.2 };
}

new Chart(addCanvas(ringCentre[0] - 873, ringCentre[1] - 873, 1746, 1746), {
    type: 'doughnut',
    data: {
        datasets: [
            heatDataset(ringPcanEsin, [122, 44, 0]), ringSeparator(),
            heatDataset(ringRaurEsin, [0, 58, 99]), ringSeparator(),
            heatDataset(ringEsin, [156, 143, 0]), ringSeparator(),
            heatDataset(ringPcan, [0, 79, 57]), ringSeparator(),
            heatDataset(ringRaur, [0, 118, 168]), ringSeparator(),
            heatDataset(ringControl, [127, 76, 0]), ringSeparator(),
            { data: [1], backgroundColor: ['rgba(0,0,0,0)'], borderWidth: 0, weight: 8 },
            {
                data: cladeSpans,
                backgroundColor: ['rgba(0,0,0,0)', '#cbfbe9', 'rgba(0,0,0,0)', '#ffdfe0', 'rgba(0,0,0,0)', '#cdf3fd', '#d6f6e3', '#e0ddfc', '#fefcd8'],
                borderWidth: 0,
                weight: 559,
                rotation: 161.7
            }
        ]
    },
    options: Object.assign({}, baseOptions, { cutout: 165 })
});

// ============================= tree overlay

function toPage(quad, x, y) {
    const q = quadrants[quad];
    return { x: q[0] + x / q[2], y: q[1] + y / q[3] };
}

function lineDatasets(quad, lines, color) {
    return lines.map(flat => {
        const pts = [];
        for (let i = 0; i < flat.length; i += 2) pts.push(toPage(quad, flat[i], flat[i + 1]));
        return { data: pts, showLine: true, borderColor: color, borderWidth: 3.8, pointRadius: 0, borderJoinStyle: 'round', borderCapStyle: 'round' };
    });
}

function patchDatasets(quad, patches, color) {
    return patches.map(flat => {
        const pts = [];
        for (let i = 0; i < flat.length; i += 2) pts.push(toPage(quad, flat[i], flat[i + 1]));
        return { data: pts, showLine: true, fill: 'shape', backgroundColor: color, borderWidth: 0, pointRadius: 0 };
    });
}

function nodeDataset(quad, nodes, color) {
    return {
        data: nodes.map(n => Object.assign(toPage(quad, n[0], n[1]), { size: Math.max(n[2] / 1.7, 1.7) })),
        backgroundColor: color,
        borderColor: '#000',
        borderWidth: 1.4,
        pointRadius: ctx => ctx.raw ? ctx.raw.size : 0
    };
}

function starImage(outer, fill, stroke) {
    const c = document.createElement('canvas');
    c.width = c.height = outer * 2 + 4;
    const g = c.getContext('2d');
    g.translate(outer + 2, outer + 2);
    g.beginPath();
    for (let i = 0; i < 10; i++) {
        const r = i % 2 ? outer * 0.42 : outer;
        const a = -Math.PI / 2 + i * Math.PI / 5;
        g.lineTo(r * Math.cos(a), r * Math.sin(a));
    }
    g.closePath();
    g.fillStyle = fill;
    g.fill();
    if (stroke) { g.strokeStyle = stroke; g.lineWidth = 1.4; g.stroke(); }
    return c;
}

const blackStar = starImage(5, '#000');
const openStar = starImage(7, '#ffe600', '#000');

function starDataset(quad, stars, img) {
    return { data: stars.map(s => toPage(quad, s[0], s[1])), pointStyle: img, pointRadius: 6 };
}

const cYellow = '#ffe600', cPurple = '#3214ff', cLeaf = '#00c820', cSky = '#00bfff', cRose = '#ff2d2d', cMint = '#00f080';

const treeDatasets = [].concat(
    [starDataset('nw', blackStarsNw, blackStar), starDataset('nw', openStarsNw, openStar),
     starDataset('sw', blackStarsSw, blackStar), starDataset('sw', openStarsSw, openStar),
     starDataset('ne', blackStarsNe, blackStar), starDataset('ne', openStarsNe, openStar),
     starDataset('se', blackStarsSe, blackStar)],
    [nodeDataset('nw', purpleNodesNw, cPurple), nodeDataset('nw', greenNodesNw, cLeaf),
     nodeDataset('sw', blueNodesSw, cSky), nodeDataset('sw', redNodesSw, cRose), nodeDataset('sw', mintNodesSw, cMint),
     nodeDataset('nw', yellowNodesNw, cYellow), nodeDataset('ne', yellowNodesNe, cYellow), nodeDataset('se', yellowNodesSe, cYellow),
     nodeDataset('nw', whiteNodesNw, '#fff'), nodeDataset('ne', whiteNodesNe, '#fff'),
     nodeDataset('sw', whiteNodesSw, '#fff'), nodeDataset('se', whiteNodesSe, '#fff')],
    lineDatasets('nw', purpleLinesNw, cPurple),
    lineDatasets('nw', greenLinesNw, cLeaf),
    lineDatasets('sw', blueLinesSw, cSky),
    lineDatasets('sw', redLinesSw, cRose),
    lineDatasets('sw', mintLinesSw, cMint),
    lineDatasets('nw', yellowLinesNw, cYellow),
    lineDatasets('ne', yellowLinesNe, cYellow),
    lineDatasets('se', yellowLinesSe, cYellow),
    lineDatasets('nw', blackLinesNw, '#000'),
    lineDatasets('sw', blackLinesSw, '#000'),
    patchDatasets('nw', purplePatchesNw, '#c4bffb'),
    patchDatasets('nw', greenPatchesNw, '#aff0cb'),
    patchDatasets('sw', bluePatchesSw, '#a5ecfe'),
    patchDatasets('sw', redPatchesSw, '#ffc2c3'),
    patchDatasets('sw', mintPatchesSw, '#95fddd'),
    patchDatasets('nw', yellowPatchesNw, '#fefabd'),
    patchDatasets('ne', yellowPatchesNe, '#fefabd'),
    patchDatasets('se', yellowPatchesSe, '#fefabd')
);

new Chart(addCanvas(0, 0, 3259, 2041), {
    type: 'scatter',
    data: { datasets: treeDatasets },
    options: Object.assign({}, baseOptions, {
        scales: {
            x: { type: 'linear', display: false, min: 0, max: 3259 },
            y: { type: 'linear', display: false, min: 0, max: 2041, reverse: true }
        }
    })
});

// ============================= tree text

const cladeLetters = [['A',1790,555],['B',1748,602],['C',1692,704],['D',1640,922],['G',1630,1045],['H',1635,1089],['I',1666,1178],['E',1874,1541],['F',1912,1480],['J',1981,1597],['K',2013,1532],['L',2301,342],['M',2459,377],['N',2227,341],['O',2191,344],['P',2121,354],['T',2649,485],['S',2790,664],['R',2812,714],['Q',2833,766],['U',2673,1423],['V',2796,1262]];
cladeLetters.forEach(l => {
    const rot = Math.atan2(l[1] - ringCentre[0], ringCentre[1] - l[2]) * 180 / Math.PI;
    addText(l[0], l[1], l[2], 31, { rot: rot });
});

addText('Proteobacteria', 2803, 577, 30, { rot: 55.4 });
addText('Nitrospirae', 1670, 581, 30, { rot: -53 });
addText('Gemmatimonadetes', 1581, 823, 30, { rot: -76 });
addText('Acidobacteria', 1564, 1094, 29, { rot: -99.6 });

levelLabels.forEach((name, i) => addText(name, 2247, 1056 + i * 84.3, 25));

ringLabels.forEach((name, i) => addText(name, 2284, 1698 + i * 24, 16, { italic: i > 0 }));

const phylumColors = [cSky, cMint, cRose, cLeaf, cPurple, cYellow];
phylumLegend.forEach((name, i) => {
    const y = 1792 + i * 39;
    addMark(2714, y, 21, phylumColors[i], true, '1.5px solid #000');
    addText(name, 2756, y, 32.4, { left: true });
});

addText('a', 58, 66, 84);
addText('b', 58, 1380, 84);
addText('c', 1438, 66, 84);
</script>
</body>
</html>
